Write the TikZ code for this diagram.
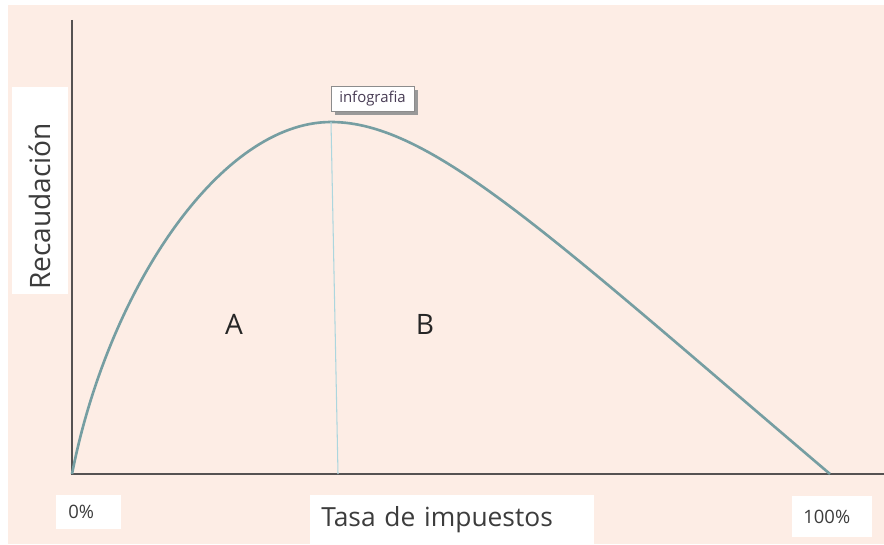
\documentclass[tikz,border=0pt]{standalone}
\usepackage{fontspec}
\setmainfont{Open Sans}
\usetikzlibrary{shadows}

\definecolor{bgpink}{RGB}{253,237,229}
\definecolor{axisgray}{RGB}{85,82,82}
\definecolor{curveteal}{RGB}{118,158,162}
\definecolor{peakblue}{RGB}{172,214,222}
\definecolor{labelgray}{RGB}{60,60,60}
\definecolor{tagtext}{RGB}{72,60,84}

\begin{document}
\begin{tikzpicture}[x=0.02cm, y=-0.02cm,
    whitebox/.style={fill=white, inner ysep=0pt, align=left, text=labelgray},
    region/.style={text=black!85, font=\fontsize{16}{19}\selectfont}]

    % Canvas
    \useasboundingbox (0,0) rectangle (884,544);
    \fill[white] (0,0) rectangle (884,544);
    \fill[bgpink] (8,5) rectangle (884,544);

    % Axes
    \coordinate (origin) at (72,474);
    \coordinate (ytop) at (72,20);
    \coordinate (xend) at (884,474);
    \draw[axisgray, line width=1.2pt] (ytop) -- (origin) -- (xend);

    % Laffer curve (rising and falling side)
    \coordinate (peak) at (331,122);
    \coordinate (zero) at (830,474);
    \draw[curveteal, line width=1.5pt]
        (origin) .. controls (108,290) and (220,122) .. (peak)
        .. controls (431,122) and (550,236) .. (zero);

    % Peak marker
    \coordinate (peakbase) at (338,474);
    \draw[peakblue, line width=0.6pt] (peak) -- (peakbase);

    % Peak label
    \node[draw=black!45, fill=white, text=tagtext, inner sep=0pt,
        minimum width=1.66cm, minimum height=0.5cm,
        font=\fontsize{8.5}{10}\selectfont,
        drop shadow={shadow xshift=2pt, shadow yshift=-2pt, fill=black!40, opacity=1}]
        (toplabel) at (372.5,98.5) {infografia};

    % Regions
    \node[region] (regionA) at (234,324) {A};
    \node[region] (regionB) at (425,324) {B};

    % Axis titles
    \node[whitebox, rotate=90, minimum width=4.14cm, minimum height=1.12cm,
        inner xsep=0.08cm, text width=3.98cm, font=\fontsize{16}{19}\selectfont]
        (ylabel) at (40,190.5) {Recaudación};
    \node[whitebox, anchor=north west, minimum width=5.68cm, minimum height=0.98cm,
        inner xsep=0.22cm, text width=5.24cm, font=\fontsize{15}{18}\selectfont]
        (xlabel) at (310,495) {Tasa de impuestos};

    % Axis ends
    \node[whitebox, anchor=north west, minimum width=1.3cm, minimum height=0.68cm,
        inner xsep=0.24cm, text width=0.82cm, font=\fontsize{10.5}{12}\selectfont]
        (xmin) at (56,495) {0\%};
    \node[whitebox, anchor=north west, minimum width=1.6cm, minimum height=0.82cm,
        inner xsep=0.22cm, text width=1.16cm, font=\fontsize{10.5}{12}\selectfont]
        (xmax) at (792,496) {100\%};

\end{tikzpicture}
\end{document}
